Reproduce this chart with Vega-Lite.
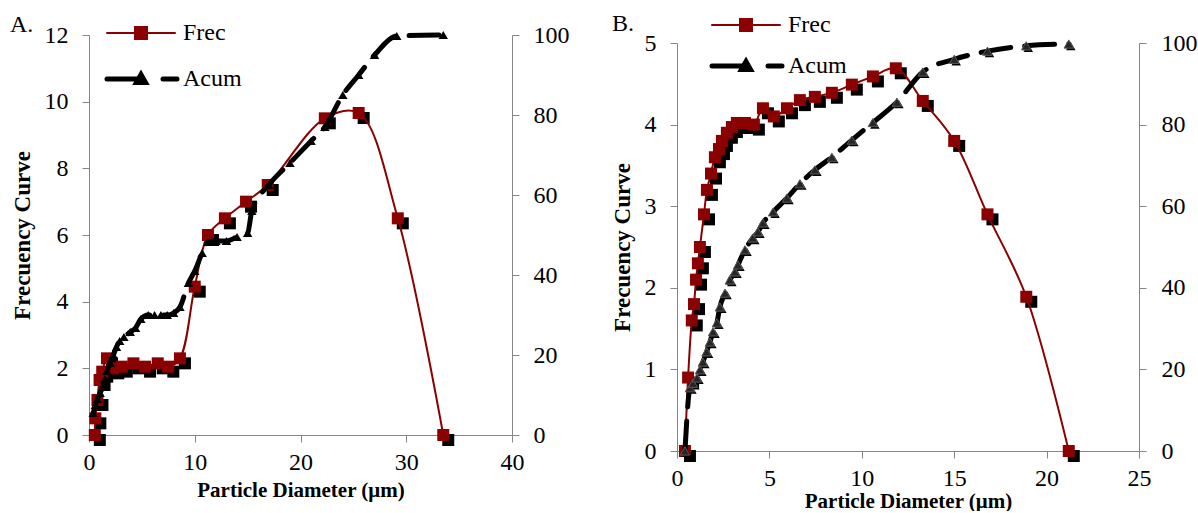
{
  "$schema": "https://vega.github.io/schema/vega-lite/v6.json",
  "background": "white",
  "padding": {"left": 10, "top": 12, "right": 0, "bottom": 0},
  "spacing": 42,
  "datasets": {
    "A": [
      {"s": "Frec", "d": 0.55, "v": 0},
      {"s": "Frec", "d": 0.6, "v": 0.5},
      {"s": "Frec", "d": 0.8, "v": 1.05},
      {"s": "Frec", "d": 1.0, "v": 1.65},
      {"s": "Frec", "d": 1.25, "v": 1.9},
      {"s": "Frec", "d": 1.7, "v": 2.3},
      {"s": "Frec", "d": 2.3, "v": 2.0},
      {"s": "Frec", "d": 3.1, "v": 2.05},
      {"s": "Frec", "d": 4.2, "v": 2.15},
      {"s": "Frec", "d": 5.3, "v": 2.05},
      {"s": "Frec", "d": 6.5, "v": 2.15},
      {"s": "Frec", "d": 7.5, "v": 2.05},
      {"s": "Frec", "d": 8.6, "v": 2.3},
      {"s": "Frec", "d": 10.0, "v": 4.45},
      {"s": "Frec", "d": 11.25, "v": 6.0},
      {"s": "Frec", "d": 12.85, "v": 6.5},
      {"s": "Frec", "d": 14.85, "v": 7.0},
      {"s": "Frec", "d": 16.9, "v": 7.5},
      {"s": "Frec", "d": 22.3, "v": 9.5},
      {"s": "Frec", "d": 25.5, "v": 9.66},
      {"s": "Frec", "d": 29.2, "v": 6.5},
      {"s": "Frec", "d": 33.5, "v": 0},
      {"s": "Acum", "d": 0.4, "v": 5.5},
      {"s": "Acum", "d": 0.6, "v": 7.5},
      {"s": "Acum", "d": 0.8, "v": 9},
      {"s": "Acum", "d": 1.05, "v": 10.5},
      {"s": "Acum", "d": 1.3, "v": 12},
      {"s": "Acum", "d": 1.5, "v": 14},
      {"s": "Acum", "d": 1.7, "v": 16},
      {"s": "Acum", "d": 2.0, "v": 18},
      {"s": "Acum", "d": 2.3, "v": 20},
      {"s": "Acum", "d": 2.6, "v": 22},
      {"s": "Acum", "d": 2.9, "v": 23.5},
      {"s": "Acum", "d": 3.3, "v": 24.5},
      {"s": "Acum", "d": 3.9, "v": 25.75},
      {"s": "Acum", "d": 4.4, "v": 26.75},
      {"s": "Acum", "d": 4.9, "v": 29},
      {"s": "Acum", "d": 5.6, "v": 30},
      {"s": "Acum", "d": 6.2, "v": 30},
      {"s": "Acum", "d": 6.8, "v": 30},
      {"s": "Acum", "d": 7.4, "v": 30},
      {"s": "Acum", "d": 8.0, "v": 30.5},
      {"s": "Acum", "d": 8.6, "v": 32},
      {"s": "Acum", "d": 9.4, "v": 38},
      {"s": "Acum", "d": 10.0, "v": 41},
      {"s": "Acum", "d": 10.7, "v": 45.5},
      {"s": "Acum", "d": 11.25, "v": 48.25},
      {"s": "Acum", "d": 12.0, "v": 48.5},
      {"s": "Acum", "d": 13.0, "v": 48.5},
      {"s": "Acum", "d": 14.0, "v": 49.5},
      {"s": "Acum", "d": 15.0, "v": 50.5},
      {"s": "Acum", "d": 15.4, "v": 56},
      {"s": "Acum", "d": 17.0, "v": 62.5},
      {"s": "Acum", "d": 19.0, "v": 68},
      {"s": "Acum", "d": 21.0, "v": 73.5},
      {"s": "Acum", "d": 22.3, "v": 77},
      {"s": "Acum", "d": 24.0, "v": 85},
      {"s": "Acum", "d": 25.5, "v": 90},
      {"s": "Acum", "d": 27.0, "v": 95},
      {"s": "Acum", "d": 29.1, "v": 99.75},
      {"s": "Acum", "d": 33.5, "v": 100}
    ],
    "B": [
      {"s": "Frec", "d": 0.43, "v": 0},
      {"s": "Frec", "d": 0.6, "v": 0.9},
      {"s": "Frec", "d": 0.8, "v": 1.6},
      {"s": "Frec", "d": 0.92, "v": 1.8},
      {"s": "Frec", "d": 1.03, "v": 2.1},
      {"s": "Frec", "d": 1.13, "v": 2.3},
      {"s": "Frec", "d": 1.24, "v": 2.5},
      {"s": "Frec", "d": 1.46, "v": 2.9},
      {"s": "Frec", "d": 1.62, "v": 3.2},
      {"s": "Frec", "d": 1.84, "v": 3.4},
      {"s": "Frec", "d": 2.05, "v": 3.6},
      {"s": "Frec", "d": 2.27, "v": 3.7},
      {"s": "Frec", "d": 2.43, "v": 3.8},
      {"s": "Frec", "d": 2.7, "v": 3.9},
      {"s": "Frec", "d": 2.97, "v": 3.97},
      {"s": "Frec", "d": 3.24, "v": 4.02},
      {"s": "Frec", "d": 3.68, "v": 4.02},
      {"s": "Frec", "d": 4.16, "v": 4.0},
      {"s": "Frec", "d": 4.65, "v": 4.2},
      {"s": "Frec", "d": 5.24, "v": 4.1},
      {"s": "Frec", "d": 5.95, "v": 4.2},
      {"s": "Frec", "d": 6.65, "v": 4.3},
      {"s": "Frec", "d": 7.46, "v": 4.34},
      {"s": "Frec", "d": 8.38, "v": 4.39},
      {"s": "Frec", "d": 9.46, "v": 4.49},
      {"s": "Frec", "d": 10.6, "v": 4.59},
      {"s": "Frec", "d": 11.84, "v": 4.69},
      {"s": "Frec", "d": 13.3, "v": 4.29},
      {"s": "Frec", "d": 15.0, "v": 3.8},
      {"s": "Frec", "d": 16.8, "v": 2.9},
      {"s": "Frec", "d": 18.9, "v": 1.89},
      {"s": "Frec", "d": 21.2, "v": 0},
      {"s": "Acum", "d": 0.43, "v": 0},
      {"s": "Acum", "d": 0.7, "v": 15.5},
      {"s": "Acum", "d": 0.86, "v": 16.6},
      {"s": "Acum", "d": 1.08, "v": 17.9},
      {"s": "Acum", "d": 1.24, "v": 19.9},
      {"s": "Acum", "d": 1.4, "v": 21.8},
      {"s": "Acum", "d": 1.6, "v": 24.3},
      {"s": "Acum", "d": 1.78, "v": 26.7},
      {"s": "Acum", "d": 1.95, "v": 29.2},
      {"s": "Acum", "d": 2.16, "v": 31.4},
      {"s": "Acum", "d": 2.32, "v": 35.3},
      {"s": "Acum", "d": 2.6, "v": 38.7},
      {"s": "Acum", "d": 2.86, "v": 41.9},
      {"s": "Acum", "d": 3.14, "v": 43.9},
      {"s": "Acum", "d": 3.3, "v": 45.6},
      {"s": "Acum", "d": 3.68, "v": 49.3},
      {"s": "Acum", "d": 4.1, "v": 52.2},
      {"s": "Acum", "d": 4.38, "v": 53.7},
      {"s": "Acum", "d": 4.65, "v": 55.9},
      {"s": "Acum", "d": 5.2, "v": 58.6},
      {"s": "Acum", "d": 5.95, "v": 62},
      {"s": "Acum", "d": 6.65, "v": 65.5},
      {"s": "Acum", "d": 7.46, "v": 68.9},
      {"s": "Acum", "d": 8.38, "v": 72},
      {"s": "Acum", "d": 9.46, "v": 76.2},
      {"s": "Acum", "d": 10.6, "v": 80.5},
      {"s": "Acum", "d": 11.9, "v": 85.5},
      {"s": "Acum", "d": 13.3, "v": 92.9},
      {"s": "Acum", "d": 15.0, "v": 96},
      {"s": "Acum", "d": 16.8, "v": 98},
      {"s": "Acum", "d": 18.9, "v": 99.3},
      {"s": "Acum", "d": 21.2, "v": 99.75}
    ]
  },
  "hconcat": [
    {
      "title": {"text": "A.", "anchor": "start", "frame": "group", "dx": -79, "dy": 20, "fontSize": 24, "font": "Liberation Serif", "fontWeight": "normal", "color": "black"},
      "width": 423,
      "height": 392,
      "data": {"name": "A"},
      "encoding": {
        "x": {"field": "d", "type": "quantitative", "scale": {"domain": [0, 40], "nice": false}, "axis": {"values": [0, 10, 20, 30, 40], "title": "Particle Diameter (μm)", "titlePadding": 5}}
      },
      "layer": [
        {
          "transform": [{"filter": "datum.s === 'Frec'"}],
          "encoding": {
            "y": {"field": "v", "type": "quantitative", "scale": {"domain": [0, 12], "nice": false, "range": [392, -8]}, "axis": {"orient": "left", "values": [0, 2, 4, 6, 8, 10, 12], "title": "Frecuency Curve"}}
          },
          "layer": [
            {"mark": {"type": "point", "shape": "square", "filled": true, "color": "#000000", "size": 144, "opacity": 1, "xOffset": 5, "yOffset": 5}},
            {
              "mark": {"type": "line", "interpolate": "catmull-rom", "strokeWidth": 2},
              "encoding": {
                "color": {
                  "field": "s", "type": "nominal",
                  "scale": {"domain": ["Frec", "Acum"], "range": ["#8B0000", "#000000"]},
                  "legend": {
                    "orient": "none", "legendX": 40, "legendY": -22, "direction": "vertical", "title": null,
                    "symbolSize": 400, "labelFont": "Liberation Serif", "labelFontSize": 24, "labelColor": "black",
                    "labelOffset": 30, "rowPadding": 19,
                    "encode": {"symbols": {"update": {
                      "shape": {"signal": "datum.value === 'Frec' ? 'M-3.4,0H3.4M-0.6,-0.6H0.6V0.6H-0.6Z' : 'M-3.4,0H-0.4M2.2,0H3.6M-0.45,0.35L0,-0.45L0.45,0.35Z'"},
                      "strokeWidth": {"signal": "datum.value === 'Frec' ? 2 : 5"},
                      "fill": {"signal": "datum.value === 'Frec' ? '#8B0000' : '#000000'"},
                      "stroke": {"signal": "datum.value === 'Frec' ? '#8B0000' : '#000000'"},
                      "strokeCap": {"value": "round"},
                      "opacity": {"value": 1},
                      "fillOpacity": {"value": 1}
                    }}}
                  }
                }
              }
            },
            {"mark": {"type": "point", "shape": "square", "filled": true, "color": "#8B0000", "size": 144, "opacity": 1}}
          ]
        },
        {
          "transform": [{"filter": "datum.s === 'Acum'"}],
          "encoding": {
            "y": {"field": "v", "type": "quantitative", "scale": {"domain": [0, 100], "nice": false, "range": [392, -8]}, "axis": {"orient": "right", "values": [0, 20, 40, 60, 80, 100], "title": null, "labelPadding": 14}}
          },
          "layer": [
            {"mark": {"type": "line", "interpolate": "monotone", "strokeWidth": 5, "strokeDash": [30, 14], "strokeCap": "round"}, "encoding": {"color": {"field": "s", "type": "nominal"}}},
            {"mark": {"type": "point", "shape": "triangle-up", "filled": true, "color": "#000000", "size": 90, "opacity": 1}}
          ]
        }
      ],
      "resolve": {"scale": {"y": "independent"}}
    },
    {
      "title": {"text": "B.", "anchor": "start", "frame": "group", "dx": -65, "dy": 27, "fontSize": 24, "font": "Liberation Serif", "fontWeight": "normal", "color": "black"},
      "width": 462,
      "height": 408,
      "data": {"name": "B"},
      "encoding": {
        "x": {"field": "d", "type": "quantitative", "scale": {"domain": [0, 25], "nice": false}, "axis": {"values": [0, 5, 10, 15, 20, 25], "title": "Particle Diameter (μm)", "titlePadding": 0}}
      },
      "layer": [
        {
          "transform": [{"filter": "datum.s === 'Frec'"}],
          "encoding": {
            "y": {"field": "v", "type": "quantitative", "scale": {"domain": [0, 5], "nice": false}, "axis": {"orient": "left", "values": [0, 1, 2, 3, 4, 5], "title": "Frecuency Curve"}}
          },
          "layer": [
            {"mark": {"type": "point", "shape": "square", "filled": true, "color": "#000000", "size": 144, "opacity": 1, "xOffset": 5, "yOffset": 5}},
            {
              "mark": {"type": "line", "interpolate": "catmull-rom", "strokeWidth": 2},
              "encoding": {
                "color": {
                  "field": "s", "type": "nominal",
                  "scale": {"domain": ["Frec", "Acum"], "range": ["#8B0000", "#000000"]},
                  "legend": {
                    "orient": "none", "legendX": 57, "legendY": -30, "direction": "vertical", "title": null,
                    "symbolSize": 400, "labelFont": "Liberation Serif", "labelFontSize": 24, "labelColor": "black",
                    "labelOffset": 30, "rowPadding": 14,
                    "encode": {"symbols": {"update": {
                      "shape": {"signal": "datum.value === 'Frec' ? 'M-3.4,0H3.4M-0.6,-0.6H0.6V0.6H-0.6Z' : 'M-3.4,0H-0.4M2.2,0H3.6M-0.45,0.35L0,-0.45L0.45,0.35Z'"},
                      "strokeWidth": {"signal": "datum.value === 'Frec' ? 2 : 5"},
                      "fill": {"signal": "datum.value === 'Frec' ? '#8B0000' : '#000000'"},
                      "stroke": {"signal": "datum.value === 'Frec' ? '#8B0000' : '#000000'"},
                      "strokeCap": {"value": "round"},
                      "opacity": {"value": 1},
                      "fillOpacity": {"value": 1}
                    }}}
                  }
                }
              }
            },
            {"mark": {"type": "point", "shape": "square", "filled": true, "color": "#8B0000", "size": 144, "opacity": 1}}
          ]
        },
        {
          "transform": [{"filter": "datum.s === 'Acum'"}],
          "encoding": {
            "y": {"field": "v", "type": "quantitative", "scale": {"domain": [0, 100], "nice": false}, "axis": {"orient": "right", "values": [0, 20, 40, 60, 80, 100], "title": null, "labelPadding": 15}}
          },
          "layer": [
            {"mark": {"type": "line", "interpolate": "monotone", "strokeWidth": 5, "strokeDash": [30, 14], "strokeCap": "round"}, "encoding": {"color": {"field": "s", "type": "nominal"}}},
            {"mark": {"type": "point", "shape": "triangle-up", "filled": true, "color": "#000000", "size": 90, "opacity": 1, "xOffset": 2, "yOffset": 2}},
            {"mark": {"type": "point", "shape": "triangle-up", "filled": true, "color": "#262626", "stroke": "#5a5a5a", "strokeWidth": 1, "size": 90, "opacity": 1}}
          ]
        }
      ],
      "resolve": {"scale": {"y": "independent"}}
    }
  ],
  "resolve": {"scale": {"color": "independent"}, "legend": {"color": "independent"}},
  "config": {
    "view": {"stroke": null},
    "font": "Liberation Serif",
    "axis": {
      "labelFont": "Liberation Serif", "labelFontSize": 24, "labelColor": "black",
      "titleFont": "Liberation Serif", "titleFontSize": 21, "titleFontWeight": "bold", "titleColor": "black",
      "domainColor": "#868686", "tickColor": "#868686", "tickSize": 7, "grid": false,
      "labelPadding": 14, "titlePadding": 10, "labelFlush": false, "labelOverlap": false
    },
    "axisX": {"labelPadding": 8},
    "axisY": {"titleFontSize": 23}
  }
}
